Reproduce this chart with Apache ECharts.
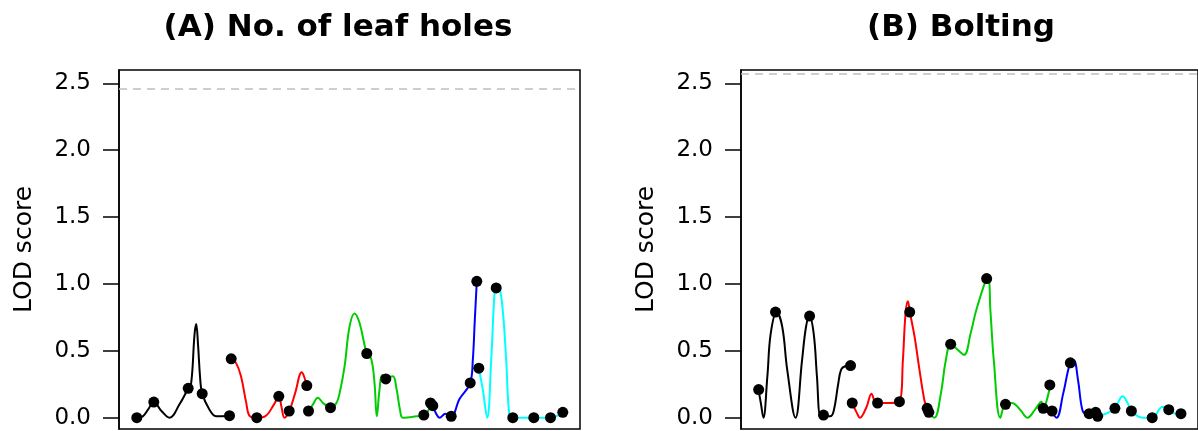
<!DOCTYPE html>
<html>
<head>
<meta charset="utf-8">
<script src="https://cdn.jsdelivr.net/npm/echarts@6/dist/echarts.min.js"></script>
<style>
html, body { margin: 0; padding: 0; background: #fff; }
#main { width: 1198px; height: 431px; }
</style>
</head>
<body>
<div id="main"></div>
<script>
// marker positions along the genome (same for both traits)
var markerPos = [17.8, 34.8, 69.2, 83.2, 110.5, 112.2, 137.8, 159.8, 170.2, 187.8,
	189.5, 211.5, 247.8, 266.8, 304.8, 311.5, 313.8, 332.2, 351.2, 357.8,
	359.8, 377.2, 393.8, 414.8, 431.5, 443.8];

// LOD at markers
var markerLodA = [0.0, 0.117, 0.22, 0.18, 0.015, 0.44, 0.0, 0.16, 0.05, 0.24,
	0.05, 0.075, 0.48, 0.29, 0.02, 0.11, 0.09, 0.01, 0.26, 1.02,
	0.37, 0.97, 0.0, 0.0, 0.0, 0.04];
var markerLodB = [0.21, 0.79, 0.76, 0.02, 0.39, 0.11, 0.11, 0.12, 0.79, 0.07,
	0.04, 0.55, 1.04, 0.10, 0.07, 0.245, 0.05, 0.41, 0.03, 0.04,
	0.01, 0.07, 0.05, 0.0, 0.06, 0.03];

// thresholds
var thresholdA = 2.46;
var thresholdB = 2.57;

var chrNames = ['1', '2', '3', '4', '5'];
var chrColors = ['#000000', '#FF0000', '#00CD00', '#0000FF', '#00FFFF'];

// (A) No. of leaf holes - LOD profile per chromosome
var profA1 = [[17.8,0],[23.8,0.01],[29,0.06],[34.8,0.117],[42.5,0.05],[50.5,0],[60.5,0.1],[69.2,0.22],[72.2,0.26],[75.5,0.62],[77.2,0.70],[79,0.55],[81.2,0.29],[83.2,0.18],[90.5,0.06],[97.5,0.01],[110.5,0.015]];
var profA2 = [[112.2,0.44],[117,0.41],[122,0.31],[127,0.12],[131,0.01],[137.8,0],[146,0.01],[155,0.1],[159.8,0.16],[162.5,0.08],[165.5,0],[170.2,0.05],[176,0.18],[182.8,0.34],[185,0.31],[187.8,0.24]];
var profA3 = [[189.5,0.05],[194,0.1],[198.8,0.15],[204,0.11],[208.8,0.085],[211.5,0.075],[217.2,0.107],[220.5,0.18],[225.5,0.38],[230.5,0.68],[235.5,0.78],[240.5,0.71],[247.8,0.48],[252.2,0.44],[255.5,0.26],[257.8,0.01],[260.5,0.21],[263.2,0.32],[266.8,0.3],[273.8,0.31],[277.2,0.23],[281.2,0.05],[283.8,0],[297.2,0.01],[304.8,0.02],[309.8,0.06],[311.5,0.11]];
var profA4 = [[313.8,0.09],[317.2,0.03],[320.5,0],[326.5,0.03],[332.2,0.01],[340.5,0.14],[351.2,0.26],[353.8,0.43],[355.8,0.73],[357.8,1.02]];
var profA5 = [[359.8,0.37],[363.8,0.21],[368.2,0],[372.2,0.43],[375.5,0.93],[377.2,0.98],[380.5,0.97],[383.8,0.8],[387.2,0.43],[390.5,0.01],[393.8,0],[414.8,0],[431.5,0],[437,0.01],[443.8,0.04]];

// (B) Bolting - LOD profile per chromosome
var profB1 = [[17.6,0.21],[20,0.11],[22.6,0],[26.6,0.31],[30,0.63],[36,0.79],[41.6,0.68],[46.6,0.36],[55,0],[61.6,0.43],[65.6,0.68],[69,0.76],[73.3,0.63],[76.6,0.31],[80,0.02],[83,0.02],[90,0.01],[93.5,0.05],[98,0.25],[101,0.36],[105,0.385],[110.3,0.39]];
var profB2 = [[112,0.11],[116.6,0.04],[120,0],[126.6,0.08],[131.6,0.18],[135,0.12],[138,0.11],[148.3,0.11],[160,0.12],[163.3,0.43],[166,0.78],[168.3,0.87],[170.3,0.79],[175,0.61],[180,0.36],[185,0.13],[187.6,0.07]];
var profB3 = [[189.3,0.04],[195,0],[201.6,0.18],[206.6,0.43],[211.6,0.55],[218.3,0.51],[225,0.47],[231.6,0.63],[238.3,0.83],[249,1.04],[251.6,0.8],[255,0.43],[261.6,0],[266.6,0.1],[273.3,0.11],[281.6,0.06],[289,0],[296.6,0.06],[303,0.12],[304.6,0.07],[312,0.245]];
var profB4 = [[313.3,0.05],[318.3,0],[325,0.18],[332,0.41],[335.6,0.43],[340,0.28],[344.3,0.06],[348.3,0.03],[351,0.03],[358.3,0.04]];
var profB5 = [[360,0.01],[368.3,0.03],[377,0.07],[385,0.16],[390,0.11],[394,0.05],[405,0],[415,0],[425,0.08],[430,0.08],[431.6,0.06],[438.3,0.03],[444,0.03],[446.6,0.01]];

var yTicks = [0, 0.5, 1, 1.5, 2, 2.5];

var profilesA = [profA1, profA2, profA3, profA4, profA5];
var profilesB = [profB1, profB2, profB3, profB4, profB5];

var chart = echarts.init(document.getElementById('main'));
var fontFam = 'DejaVu Sans';

function makeDots(vals) {
	var out = [];
	for (var i = 0; i < markerPos.length; i++) {
		out.push([markerPos[i], vals[i]]);
	}
	return out;
}

function makeYAxis(idx) {
	return {
		type: 'value',
		gridIndex: idx,
		min: -0.0845,
		max: 2.6,
		name: 'LOD score',
		nameLocation: 'middle',
		nameGap: 82,
		nameRotate: 90,
		nameTextStyle: { color: '#000', fontSize: 25, fontFamily: fontFam },
		axisLine: { show: true, lineStyle: { color: '#000', width: 1.5 } },
		axisTick: { show: true, length: 16, customValues: yTicks, lineStyle: { color: '#000', width: 1.5 } },
		axisLabel: {
			customValues: yTicks,
			margin: 28,
			color: '#000',
			fontSize: 23,
			fontFamily: fontFam,
			formatter: function (v) { return v.toFixed(1); }
		},
		splitLine: { show: false }
	};
}

function makeXAxis(idx) {
	return {
		type: 'value',
		gridIndex: idx,
		min: 0,
		max: 461,
		axisLine: { show: false },
		axisTick: { show: false },
		axisLabel: { show: false },
		splitLine: { show: false }
	};
}

var series = [];
function addPanel(idx, profiles, dots, thr) {
	for (var c = 0; c < profiles.length; c++) {
		series.push({
			name: chrNames[c],
			type: 'line',
			xAxisIndex: idx,
			yAxisIndex: idx,
			data: profiles[c],
			smooth: 0.4,
			showSymbol: false,
			lineStyle: { color: chrColors[c], width: 2 },
			z: 2
		});
	}
	series.push({
		type: 'scatter',
		xAxisIndex: idx,
		yAxisIndex: idx,
		data: makeDots(dots),
		symbolSize: 11,
		itemStyle: { color: '#000', opacity: 1 },
		z: 3,
		markLine: {
			silent: true,
			symbol: 'none',
			label: { show: false },
			lineStyle: { color: '#BEBEBE', type: [8, 6], width: 1.5 },
			data: [{ yAxis: thr }]
		}
	});
}
addPanel(0, profilesA, markerLodA, thresholdA);
addPanel(1, profilesB, markerLodB, thresholdB);

var option = {
	animation: false,
	backgroundColor: '#fff',
	title: [
		{ text: '(A) No. of leaf holes', left: 333, top: 7, textAlign: 'center',
		  textStyle: { fontSize: 31, fontWeight: 'bold', color: '#000', fontFamily: fontFam } },
		{ text: '(B) Bolting', left: 956, top: 7, textAlign: 'center',
		  textStyle: { fontSize: 31, fontWeight: 'bold', color: '#000', fontFamily: fontFam } }
	],
	grid: [
		{ left: 119, top: 70, width: 461, height: 359, show: true, borderColor: '#000', borderWidth: 1.5 },
		{ left: 741, top: 70, width: 461, height: 359, show: true, borderColor: '#000', borderWidth: 1.5 }
	],
	xAxis: [makeXAxis(0), makeXAxis(1)],
	yAxis: [makeYAxis(0), makeYAxis(1)],
	series: series
};

chart.setOption(option);
</script>
</body>
</html>
